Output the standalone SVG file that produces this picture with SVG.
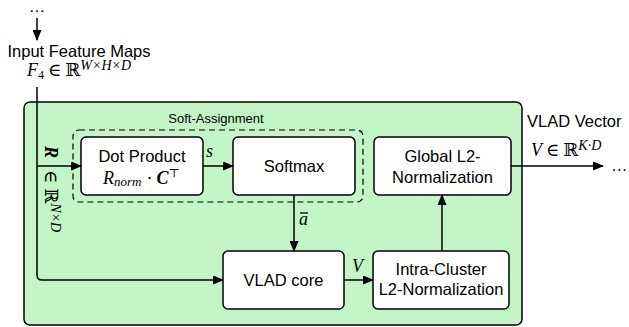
<svg xmlns="http://www.w3.org/2000/svg" width="629" height="327" viewBox="0 0 629 327">
<style>
.sans{font-family:"Liberation Sans",Arial,sans-serif;font-size:16.5px;fill:#000}
.small{font-size:13px}
.math{font-family:"Liberation Serif","DejaVu Serif",serif;font-size:18px;font-style:italic;fill:#000}
.sym{font-family:"DejaVu Serif","Liberation Serif",serif;font-style:normal}
.box{fill:#fff;stroke:#000;stroke-width:1.5}
.conn{fill:none;stroke:#000;stroke-width:1.5}
</style>
<defs>
<marker id="arr" markerUnits="userSpaceOnUse" markerWidth="11" markerHeight="9" refX="10" refY="4.5" orient="auto">
<path d="M0,0 L11,4.5 L0,9 z" fill="#000"/>
</marker>
</defs>
<g id="container">
<rect x="24" y="102" width="498" height="223" rx="6" fill="#c4f5c7" stroke="#000" stroke-width="1.5"/>
</g>
<g id="soft-assignment">
<rect x="73" y="130" width="290" height="72" rx="6" fill="none" stroke="#000" stroke-width="1.2" stroke-dasharray="6,4"/>
<text class="sans small" x="216" y="123" text-anchor="middle">Soft-Assignment</text>
</g>
<g id="input">
<text class="sans" x="37" y="12" text-anchor="middle">…</text>
<text class="sans" x="79" y="57" text-anchor="middle">Input Feature Maps</text>
<text class="math" x="27" y="76">F<tspan font-size="12" font-style="normal" dy="3">4</tspan><tspan class="sym" dy="-3" dx="4">∈</tspan><tspan class="sym" dx="4">ℝ</tspan><tspan font-size="14" dy="-6">W×H×D</tspan></text>
</g>
<g id="dot-product">
<rect class="box" x="81" y="137" width="122" height="58" rx="5"/>
<text class="sans" x="142" y="162" text-anchor="middle">Dot Product</text>
<text class="math" x="103" y="184">R<tspan font-size="13" dy="2">norm</tspan><tspan font-style="normal" dy="-2" dx="5">·</tspan><tspan font-weight="bold" dx="4">C</tspan><tspan class="sym" font-size="12" dy="-7">⊤</tspan></text>
</g>
<g id="softmax">
<rect class="box" x="233" y="137" width="122" height="58" rx="5"/>
<text class="sans" x="294" y="172" text-anchor="middle">Softmax</text>
</g>
<g id="global-l2">
<rect class="box" x="374" y="137" width="137" height="58" rx="5"/>
<text class="sans" x="442.5" y="162" text-anchor="middle">Global L2-</text>
<text class="sans" x="442.5" y="183" text-anchor="middle">Normalization</text>
</g>
<g id="vlad-core">
<rect class="box" x="223" y="251" width="121" height="58" rx="5"/>
<text class="sans" x="283.5" y="286" text-anchor="middle">VLAD core</text>
</g>
<g id="intra-cluster">
<rect class="box" x="373" y="251" width="136" height="58" rx="5"/>
<text class="sans" x="441" y="275" text-anchor="middle">Intra-Cluster</text>
<text class="sans" x="441" y="295" text-anchor="middle">L2-Normalization</text>
</g>
<g id="output">
<text class="sans" x="527" y="127">VLAD Vector</text>
<text class="math" x="531" y="156">V<tspan class="sym" dx="4">∈</tspan><tspan class="sym" dx="4">ℝ</tspan><tspan font-size="14" dy="-6">K·D</tspan></text>
<text class="sans" x="611" y="171">…</text>
</g>
<g id="connectors">
<path class="conn" d="M37,18 V40" marker-end="url(#arr)"/>
<path class="conn" d="M37,87 V275 Q37,280 42,280 H223" marker-end="url(#arr)"/>
<path class="conn" d="M37,166 H81" marker-end="url(#arr)"/>
<path class="conn" d="M203,166 H233" marker-end="url(#arr)"/>
<path class="conn" d="M294,195 V251" marker-end="url(#arr)" stroke-width="1.2"/>
<path class="conn" d="M344,280 H373" marker-end="url(#arr)"/>
<path class="conn" d="M442,251 V195" marker-end="url(#arr)"/>
<path class="conn" d="M511,166 H603" marker-end="url(#arr)"/>
<text class="math" x="206" y="157">s</text>
<text class="math" x="299" y="225">a</text>
<path d="M300,213 H308" stroke="#000" stroke-width="1.3"/>
<text class="math" x="352" y="272">V</text>
<text class="math" transform="translate(45,146) rotate(90)" x="0" y="0"><tspan font-weight="bold">R</tspan><tspan class="sym" dx="12">∈</tspan><tspan class="sym" dx="5">ℝ</tspan><tspan font-size="14" dy="-6">N×D</tspan></text>
</g>
</svg>
